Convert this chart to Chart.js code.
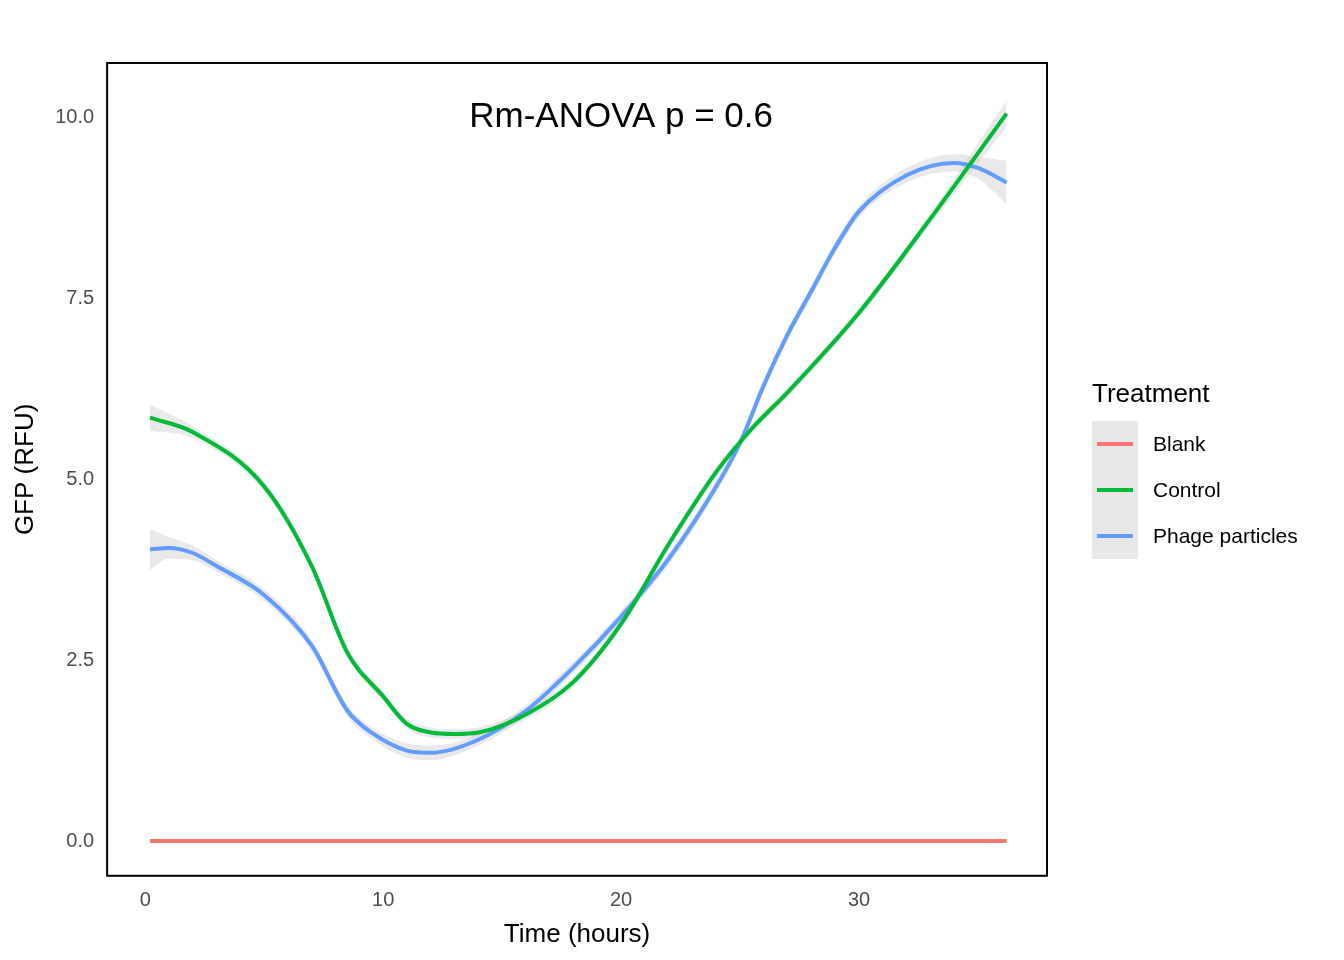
<!DOCTYPE html>
<html><head><meta charset="utf-8">
<script src="https://cdn.jsdelivr.net/npm/chart.js@4"></script>
<style>
body{margin:0;background:#fff;font-family:"Liberation Sans",Arial,sans-serif;}
#wrap{position:relative;width:1344px;height:960px;}
#leg{position:absolute;left:1092px;top:378px;color:#000;}
#leg .t{font-size:26px;margin-bottom:12px;}
.row{display:flex;align-items:center;height:46px;}
.key{width:46px;height:46px;background:#e8e8e8;position:relative;}
.key i{position:absolute;left:5px;right:5px;top:21px;height:4px;}
.row span{font-size:21px;margin-left:15px;}
</style></head><body>
<div id="wrap"><canvas id="c" width="1344" height="960"></canvas>
<div id="leg"><div class="t">Treatment</div>
<div class="row"><div class="key"><i style="background:#F8766D"></i></div><span>Blank</span></div>
<div class="row"><div class="key"><i style="background:#00BA38"></i></div><span>Control</span></div>
<div class="row"><div class="key"><i style="background:#619CFF"></i></div><span>Phage particles</span></div>
</div></div>
<script>
const blankX=[0.2,36.2], blankY=[0,0];
const ctrlX=[0.2,2,5,7,8.5,10,11,12,13,14,16,18,20,22,24,25.5,27,30,33,36.2];
const ctrlY=[5.85,5.65,4.9,3.8,2.6,2.0,1.62,1.5,1.48,1.5,1.75,2.2,3.0,4.1,5.1,5.7,6.2,7.3,8.6,10.05];
const ctrlSE=[0.18,0.08,0.07,0.07,0.07,0.07,0.07,0.07,0.07,0.07,0.07,0.07,0.07,0.07,0.07,0.07,0.07,0.07,0.08,0.18];
const phX=[0.2,1,2,3,5,7,8.5,9.5,11,12,14,16,18,20,22,24,25,26,27,28,29,30,32,34,35,36.2];
const phY=[4.03,4.05,3.98,3.8,3.4,2.7,1.8,1.5,1.25,1.22,1.4,1.8,2.4,3.1,3.9,4.9,5.5,6.3,7.0,7.6,8.2,8.7,9.2,9.37,9.3,9.1];
const phSE=[0.28,0.15,0.1,0.08,0.08,0.08,0.08,0.08,0.1,0.1,0.08,0.08,0.08,0.08,0.08,0.08,0.08,0.08,0.08,0.08,0.08,0.08,0.1,0.12,0.15,0.3];
const xTicks=[0,10,20,30], yTicks=[0,2.5,5,7.5,10];
const pts=(xs,ys,d=0)=>xs.map((x,i)=>({x,y:ys[i]+(Array.isArray(d)?d[i]:d)}));
const neg=a=>a.map(v=>-v);
const band=(xs,ys,se)=>[
 {data:pts(xs,ys,se),borderWidth:0,pointRadius:0,fill:'+1',backgroundColor:'rgba(200,200,200,0.4)',tension:0.4,cubicInterpolationMode:'monotone',order:2},
 {data:pts(xs,ys,neg(se)),borderWidth:0,pointRadius:0,fill:false,tension:0.4,cubicInterpolationMode:'monotone',order:2}];
const line=(xs,ys,c)=>({data:pts(xs,ys),borderColor:c,borderWidth:4,pointRadius:0,fill:false,tension:0.4,cubicInterpolationMode:'monotone',order:1});
const deco={id:'deco',afterDraw(ch){const {ctx,chartArea:a,scales:{x,y}}=ch;ctx.save();
 ctx.strokeStyle='#000';ctx.lineWidth=2;ctx.strokeRect(a.left,a.top,a.right-a.left,a.bottom-a.top);
 ctx.fillStyle='#000';ctx.font='35px "Liberation Sans"';ctx.textAlign='center';ctx.textBaseline='middle';
 ctx.fillText('Rm-ANOVA p = 0.6',x.getPixelForValue(20),y.getPixelForValue(10));ctx.restore();}};
new Chart(document.getElementById('c'),{type:'line',
 data:{datasets:[line(blankX,blankY,'#F8766D'),line(ctrlX,ctrlY,'#00BA38'),line(phX,phY,'#619CFF'),...band(ctrlX,ctrlY,ctrlSE),...band(phX,phY,phSE)]},
 options:{responsive:false,animation:false,
  layout:{padding:{top:63,right:297,bottom:6,left:6}},
  plugins:{legend:{display:false},tooltip:{enabled:false}},
  scales:{
   x:{type:'linear',min:-1.6,max:37.9,afterBuildTicks:s=>{s.ticks=xTicks.map(v=>({value:v}));},
    grid:{display:false,drawOnChartArea:false,drawTicks:true,tickLength:7,color:'#333'},border:{display:false},
    ticks:{color:'#4d4d4d',font:{size:20,family:'Liberation Sans'},padding:6},
    title:{display:true,text:'Time (hours)',color:'#000',font:{size:26,family:'Liberation Sans'},padding:{top:0}}},
   y:{min:-0.48,max:10.75,afterBuildTicks:s=>{s.ticks=yTicks.map(v=>({value:v}));},
    grid:{display:false,drawOnChartArea:false,drawTicks:true,tickLength:7,color:'#333'},border:{display:false},
    ticks:{color:'#4d4d4d',font:{size:20,family:'Liberation Sans'},padding:6,callback:v=>v.toFixed(1)},
    title:{display:true,text:'GFP (RFU)',color:'#000',font:{size:26,family:'Liberation Sans'},padding:{bottom:8}}}}},
 plugins:[deco]});
</script></body></html>
